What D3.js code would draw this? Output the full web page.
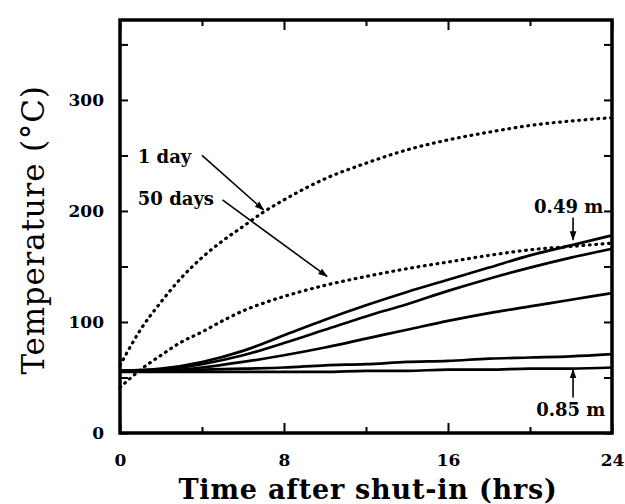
<!DOCTYPE html>
<html>
<head>
<meta charset="utf-8">
<script src="https://cdn.jsdelivr.net/npm/d3@7"></script>
<style>
  body { margin: 0; background: #fff; }
  svg { display: block; }
  .tick text { font-family: "DejaVu Serif", serif; font-weight: bold; font-size: 17px; }
</style>
</head>
<body>
<svg id="chart" width="625" height="504"></svg>
<script>
// time after shut-in (hrs) for the dotted curves
var dotTimes = [0, 1, 2, 3, 4, 5, 6, 7, 8, 10, 12, 14, 16, 18, 20, 22, 24];
var oneDay = [61, 93, 118, 140, 158, 173, 186, 199, 210, 229, 243, 255, 264, 271, 277, 281, 284];
var fiftyDays = [41, 57, 70, 82, 91, 101, 110, 117, 123, 133, 141, 148, 154, 160, 165, 168, 171];

// solid curves, top (0.49 m) to bottom (0.85 m)
var solidTimes = [0, 2, 4, 6, 8, 10, 12, 14, 16, 18, 20, 22, 24];
var solid1 = [56, 58, 64, 74, 88, 102, 115, 127, 138, 149, 160, 169, 178];
var solid2 = [56, 57, 62, 70, 81, 93, 105, 116, 128, 139, 149, 158, 166];
var solid3 = [56, 56, 59, 64, 70, 77, 85, 93, 101, 108, 114, 120, 126];
var solid4 = [56, 56, 57, 58, 59, 61, 62, 64, 65, 67, 68, 69, 71];
var solid5 = [55, 55, 55, 55, 55, 55, 56, 56, 57, 57, 58, 58, 59];

var xTicks = [0, 4, 8, 12, 16, 20, 24];
var xLabels = [0, 8, 16, 24];
var yTicks = [0, 50, 100, 150, 200, 250, 300, 350];
var yLabels = [0, 100, 200, 300];

// annotations in data units
var noteText = ["1 day", "50 days", "0.49 m", "0.85 m"];
var noteT = [0.87, 0.87, 20.2, 20.3];
var noteV = [243, 205, 198, 15];
var arrowFrom = [[4.0, 250], [5.0, 210], [22.1, 194], [22.1, 32]];
var arrowTo = [[7.0, 201], [10.1, 141], [22.1, 174], [22.1, 57]];

var svg = d3.select("#chart");
var x = d3.scaleLinear().domain([0, 24]).range([120, 612]);
var y = d3.scaleLinear().domain([0, 372]).range([433, 20]);

var defs = svg.append("defs");
defs.append("marker")
    .attr("id", "head")
    .attr("viewBox", "0 0 10 10")
    .attr("refX", 9).attr("refY", 5)
    .attr("markerWidth", 6).attr("markerHeight", 6)
    .attr("markerUnits", "strokeWidth")
    .attr("orient", "auto")
  .append("path")
    .attr("d", "M0,1.5L10,5L0,8.5Z")
    .attr("fill", "#000");

// axes, ticks pointing inward
function majorX(d) { return xLabels.indexOf(d) >= 0; }

var bottom = svg.append("g")
    .attr("transform", "translate(0," + y(0) + ")")
    .call(d3.axisBottom(x).tickValues(xTicks).tickSize(-6).tickPadding(21)
        .tickFormat(function (d) { return majorX(d) ? d : ""; }));
bottom.selectAll(".tick line").attr("y2", function (d) { return majorX(d) ? -10 : -6; });

var top_ = svg.append("g")
    .attr("transform", "translate(0," + y(372) + ")")
    .call(d3.axisTop(x).tickValues(xTicks).tickSize(-6).tickFormat(""));
top_.selectAll(".tick line").attr("y2", function (d) { return majorX(d) ? 10 : 6; });

svg.append("g")
    .attr("transform", "translate(" + x(0) + ",0)")
    .call(d3.axisLeft(y).tickValues(yTicks).tickSize(-8).tickPadding(16)
        .tickFormat(function (d) { return yLabels.indexOf(d) >= 0 ? d : ""; }));

svg.append("g")
    .attr("transform", "translate(" + x(24) + ",0)")
    .call(d3.axisRight(y).tickValues(yTicks).tickSize(-8).tickFormat(""));

svg.selectAll(".domain").remove();
svg.selectAll(".tick line").attr("stroke", "#000").attr("stroke-width", 2);

// frame
svg.append("rect")
    .attr("x", x(0)).attr("y", y(372))
    .attr("width", x(24) - x(0)).attr("height", y(0) - y(372))
    .attr("fill", "none").attr("stroke", "#000").attr("stroke-width", 3.5);

var line = d3.line()
    .x(function (d) { return x(d[0]); })
    .y(function (d) { return y(d[1]); })
    .curve(d3.curveMonotoneX);

[oneDay, fiftyDays].forEach(function (s) {
    svg.append("path")
        .datum(dotTimes.map(function (t, i) { return [t, s[i]]; }))
        .attr("d", line)
        .attr("fill", "none")
        .attr("stroke", "#000")
        .attr("stroke-width", 3.2)
        .attr("stroke-linecap", "round")
        .attr("stroke-dasharray", "0.8,5.6");
});

[solid1, solid2, solid3, solid4, solid5].forEach(function (s) {
    svg.append("path")
        .datum(solidTimes.map(function (t, i) { return [t, s[i]]; }))
        .attr("d", line)
        .attr("fill", "none")
        .attr("stroke", "#000")
        .attr("stroke-width", 2.7);
});

// annotations
noteText.forEach(function (txt, i) {
    svg.append("text")
        .attr("x", x(noteT[i]))
        .attr("y", y(noteV[i]))
        .attr("font-family", "DejaVu Serif, serif")
        .attr("font-weight", "bold")
        .attr("font-size", 18)
        .text(txt);
    svg.append("line")
        .attr("x1", x(arrowFrom[i][0])).attr("y1", y(arrowFrom[i][1]))
        .attr("x2", x(arrowTo[i][0])).attr("y2", y(arrowTo[i][1]))
        .attr("stroke", "#000")
        .attr("stroke-width", 1.6)
        .attr("marker-end", "url(#head)");
});

// axis titles
svg.append("text")
    .attr("x", 368).attr("y", 499)
    .attr("text-anchor", "middle")
    .attr("font-family", "DejaVu Serif, serif")
    .attr("font-weight", "bold")
    .attr("font-size", 27)
    .attr("letter-spacing", 0.8)
    .text("Time after shut-in (hrs)");

svg.append("text")
    .attr("transform", "translate(44,230) rotate(-90)")
    .attr("text-anchor", "middle")
    .attr("font-family", "DejaVu Serif, serif")
    .attr("font-size", 31)
    .attr("letter-spacing", 0.8)
    .text("Temperature (°C)");
</script>
</body>
</html>
